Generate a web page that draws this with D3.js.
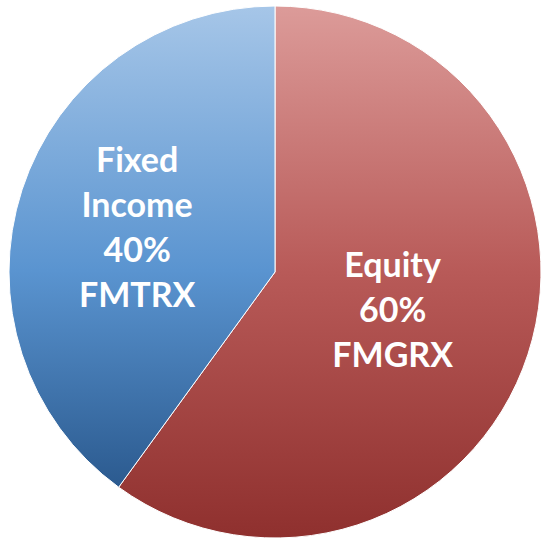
<!DOCTYPE html>
<html>
<head>
<meta charset="utf-8">
<script src="https://cdn.jsdelivr.net/npm/d3@7"></script>
<style>
  html, body { margin: 0; padding: 0; background: #fff; }
</style>
</head>
<body>
<svg id="pie" width="542" height="541"></svg>
<script>
// slice data
const names = ["Equity", "Fixed Income"];
const shares = [60, 40];
const tickers = ["FMGRX", "FMTRX"];
const labelLines = [["Equity", "60%", "FMGRX"], ["Fixed", "Income", "40%", "FMTRX"]];

const width = 542, height = 541;
const cx = 275, cy = 272, radius = 266;

const svg = d3.select("#pie");
const defs = svg.append("defs");

// vertical gradients, light at top to dark at bottom
const gradStops = {
  "Equity": [["0%", "#dc9b99"], ["50%", "#b85a58"], ["100%", "#8f302e"]],
  "Fixed Income": [["0%", "#a6c6e8"], ["55%", "#5a94d0"], ["100%", "#2b5a8f"]]
};
names.forEach((n, i) => {
  const g = defs.append("linearGradient")
    .attr("id", "grad" + i)
    .attr("x1", 0).attr("y1", 0).attr("x2", 0).attr("y2", 1);
  gradStops[n].forEach(s => g.append("stop").attr("offset", s[0]).attr("stop-color", s[1]));
});

const data = names.map((n, i) => ({name: n, value: shares[i], ticker: tickers[i], lines: labelLines[i]}));

const pie = d3.pie().sort(null).value(d => d.value);
const arc = d3.arc().innerRadius(0).outerRadius(radius);
const arcs = pie(data);

const g = svg.append("g").attr("transform", `translate(${cx},${cy})`);

g.selectAll("path")
  .data(arcs)
  .join("path")
  .attr("d", arc)
  .attr("fill", (d, i) => `url(#grad${i})`)
  .attr("stroke", "#ffffff")
  .attr("stroke-width", 1);

// labels sit on the slice bisector
const labelFrac = {"Equity": 0.465, "Fixed Income": 0.545};
const lineH = 45;
const labels = g.selectAll("text")
  .data(arcs)
  .join("text")
  .attr("text-anchor", "middle")
  .attr("fill", "#ffffff")
  .style("font-family", "Lato, 'Open Sans', sans-serif")
  .style("font-weight", "bold")
  .style("font-size", "34px")
  .attr("transform", d => {
    const r = radius * labelFrac[d.data.name];
    const [x, y] = d3.arc().innerRadius(r).outerRadius(r).centroid(d);
    return `translate(${x},${y})`;
  });

labels.selectAll("tspan")
  .data(d => d.data.lines.map((t, k, a) => ({t, k, n: a.length})))
  .join("tspan")
  .attr("x", 0)
  .attr("y", d => (d.k - (d.n - 1) / 2) * lineH)
  .attr("dy", "0.36em")
  .text(d => d.t);
</script>
</body>
</html>
